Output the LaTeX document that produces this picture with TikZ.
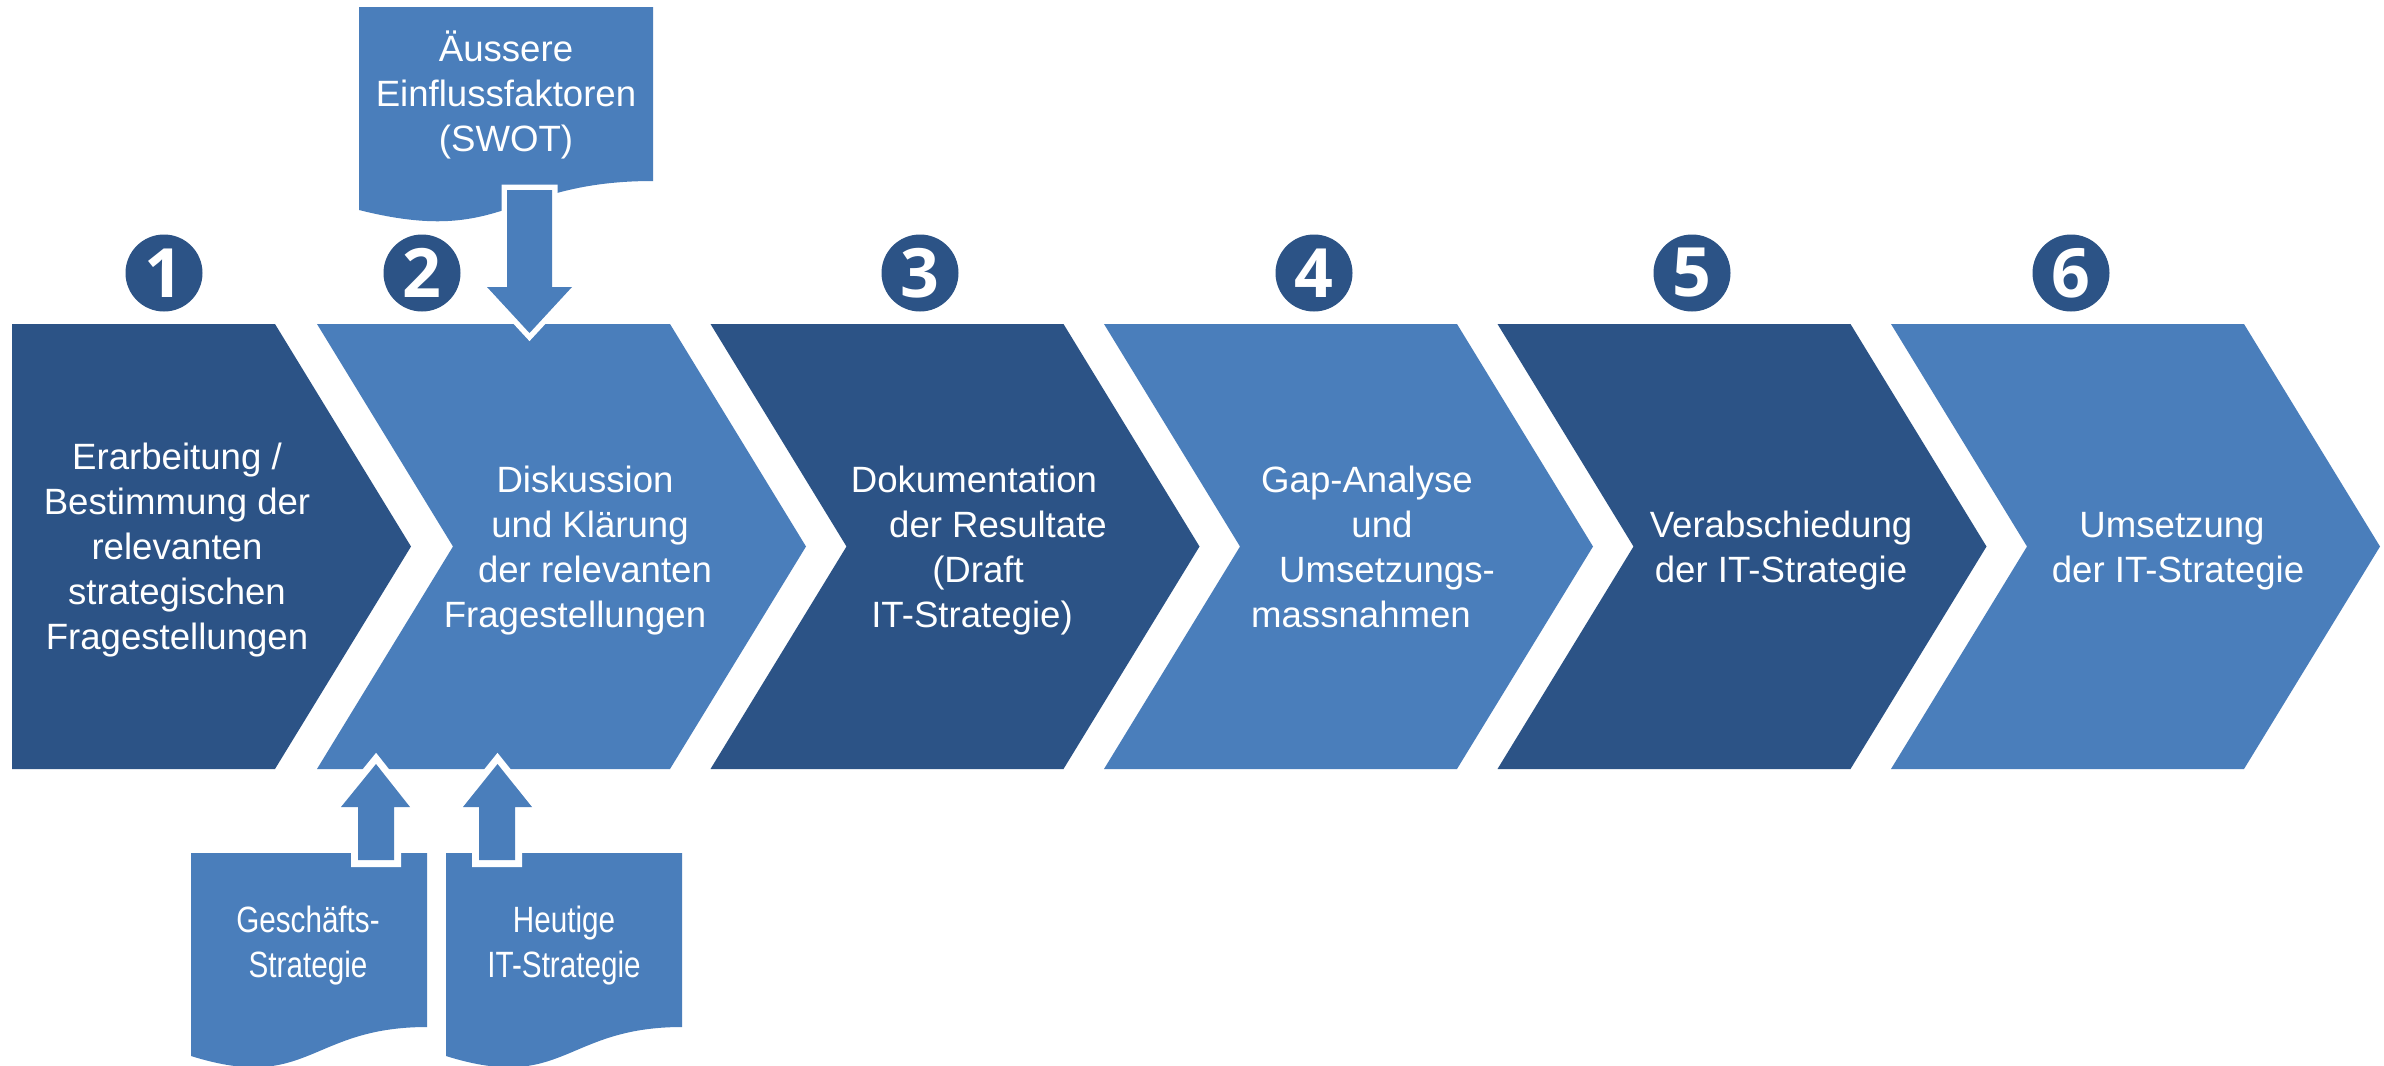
\documentclass[tikz,border=0pt]{standalone}
\usepackage{fontspec}
\setmainfont{Liberation Sans}
\newfontfamily\narrowfont{Liberation Sans}[FakeStretch=0.81]
\newfontfamily\numfont{Open Sans}
\newcommand\myshift[1]{\rule{#1}{0pt}}
\definecolor{darkblue}{RGB}{44,83,134}
\definecolor{lightblue}{RGB}{74,126,187}
\tikzset{
  steptext/.style={font={\fontsize{18.3}{22.4}\selectfont}, text=white, align=center, inner sep=0pt, anchor=base},
  doctext/.style={font={\narrowfont\fontsize{18.3}{22.4}\selectfont}, text=white, align=center, inner sep=0pt, anchor=base},
  numcirc/.style={circle, fill=darkblue, minimum size=38.5pt, inner sep=0pt, text=white,
    font={\numfont\bfseries\fontsize{34}{34}\selectfont}},
  docshape/.style={fill=lightblue},
  uparrow/.style={fill=lightblue, preaction={draw=white, line width=7pt, line join=miter}},
  downarrow/.style={fill=lightblue, preaction={draw=white, line width=5.5pt, line join=miter}}
}
\begin{document}
\begin{tikzpicture}[x=0.5pt,y=-0.5pt]
\useasboundingbox (0,0) rectangle (2384,1066);
\fill[white] (0,0) rectangle (2384,1066);
% chevrons
\fill[darkblue] (12,324) -- (275,324) -- (411,546.5) -- (275,769) -- (12,769) -- cycle;
\foreach \L/\c in {317/lightblue, 710.5/darkblue, 1104/lightblue, 1497.5/darkblue, 1891/lightblue}{
  \fill[\c] (\L,324) -- ({\L+353},324) -- ({\L+489},546.5) -- ({\L+353},769) -- (\L,769) -- ({\L+136},546.5) -- cycle;
}
% numbered circles
\node[numcirc] (n1) at (164,273) {1};
\node[numcirc] (n2) at (422,273) {2};
\node[numcirc] (n3) at (920,273) {3};
\node[numcirc] (n4) at (1314,273) {4};
\node[numcirc] (n5) at (1692,273) {5};
\node[numcirc] (n6) at (2071,273) {6};
% documents
\fill[docshape] (359,7) -- (653,7) -- (653,181) .. controls (506,181) and (506,247) .. (359,210) -- cycle;
\fill[docshape] (191,853) -- (427,853) -- (427,1027) .. controls (309,1027) and (309,1093) .. (191,1056) -- cycle;
\fill[docshape] (446,853) -- (682,853) -- (682,1027) .. controls (564,1027) and (564,1093) .. (446,1056) -- cycle;
% block arrows
\path[downarrow] (507,190) -- (552,190) -- (552,287) -- (572,287) -- (529.5,333) -- (487,287) -- (507,287) -- cycle;
\path[uparrow] (358,860) -- (394,860) -- (394,807) -- (410,807) -- (376,764) -- (341,807) -- (358,807) -- cycle;
\path[uparrow] (479,860) -- (515,860) -- (515,807) -- (532,807) -- (497.5,764) -- (463,807) -- (479,807) -- cycle;
% texts (anchor base = baseline of the last line)
\node[steptext] (t1) at (177,649) {Erarbeitung /\\Bestimmung der\\relevanten\\strategischen\\Fragestellungen};
\node[steptext] (t2) at (586,627) {Diskussion\myshift{1pt}\\\myshift{4pt}und Klärung\\\myshift{9pt}der relevanten\\Fragestellungen\myshift{11pt}};
\node[steptext] (t3) at (974,627) {Dokumentation\\\myshift{24pt}der Resultate\\\myshift{4pt}(Draft\\IT-Strategie)\myshift{2pt}};
\node[steptext] (t4) at (1370,627) {Gap-Analyse\myshift{3pt}\\\myshift{12pt}und\\\myshift{17pt}Umsetzungs-\\massnahmen\myshift{9pt}};
\node[steptext] (t5) at (1781,582) {Verabschiedung\\der IT-Strategie};
\node[steptext] (t6) at (2175,582) {Umsetzung\myshift{3pt}\\\myshift{3pt}der IT-Strategie};
\node[steptext] (dtop) at (506,151) {Äussere\\Einflussfaktoren\\(SWOT)};
\node[doctext] (d1) at (308,977) {Geschäfts-\\Strategie};
\node[doctext] (d2) at (564,977) {Heutige\\IT-Strategie};
\end{tikzpicture}
\end{document}
